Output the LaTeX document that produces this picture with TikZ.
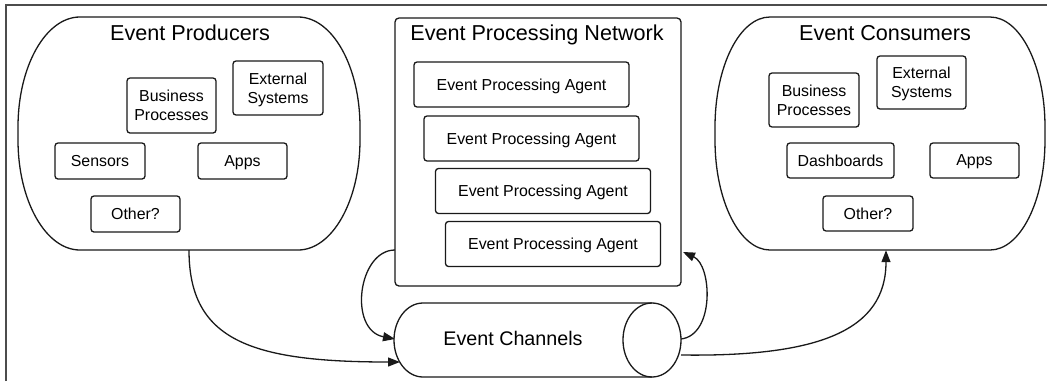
\documentclass[tikz,border=0pt]{standalone}
\usepackage{fontspec}
\setmainfont{Liberation Sans}
\usetikzlibrary{arrows.meta,calc}
\newcommand\cloudshape[5]{% L T R B rx
  \draw[ln] ({#1+#5},#2) -- ({#3-#5},#2)
    .. controls ({#3-0.4477*#5},#2) and (#3,{#2+110-60.8}) .. (#3,{#2+110})
    -- (#3,{#4-110})
    .. controls (#3,{#4-110+60.8}) and ({#3-0.4477*#5},#4) .. ({#3-#5},#4)
    -- ({#1+#5},#4)
    .. controls ({#1+0.4477*#5},#4) and (#1,{#4-110+60.8}) .. (#1,{#4-110})
    -- (#1,{#2+110})
    .. controls (#1,{#2+110-60.8}) and ({#1+0.4477*#5},#2) .. cycle;}
\begin{document}
\begin{tikzpicture}[x=1pt,y=-1pt,
  ln/.style={line width=1.3pt, draw=black!90},
  box/.style={ln, rounded corners=3pt, inner sep=0pt, align=center,
    font=\fontsize{15.9}{19}\selectfont, text depth=0pt,
    minimum width=89, minimum height=36},
  agent/.style={box, minimum width=215, minimum height=45},
  ttl/.style={anchor=base, font=\fontsize{21.6}{26}\selectfont, inner sep=0pt},
  conn/.style={ln, -{Triangle[length=12pt,width=9pt]}},
]
\useasboundingbox (0,0) rectangle (1047,381);
% frame
\draw[line width=1.3pt, black!70] (6,381) -- (6,5) -- (1047,5);

% producers
\node[minimum width=342, minimum height=233, inner sep=0pt] (prod) at (189,133.5) {};
\cloudshape{18}{17}{360}{250}{62}
\node[ttl] (prodt) at (190,40.5) {Event Producers};
\node[box, minimum height=55] (pbp) at (171.5,105.5) {Business\\Processes};
\node[box, minimum width=90, minimum height=54] (pes) at (278,88) {External\\Systems};
\node[box, minimum width=90] (psen) at (100,161) {Sensors};
\node[box] (papp) at (242.5,161) {Apps};
\node[box] (poth) at (135.5,214) {Other?};

% network
\node[ln, rounded corners=4pt, minimum width=286, minimum height=268, inner sep=0pt] (net) at (538,152) {};
\node[ttl] (nett) at (537,40) {Event Processing Network};
\node[agent] (a1) at (521.5,84.5) {Event Processing Agent};
\node[agent] (a2) at (531.5,138.5) {Event Processing Agent};
\node[agent] (a3) at (543,191) {Event Processing Agent};
\node[agent] (a4) at (553,244) {Event Processing Agent};

% consumers
\node[minimum width=330, minimum height=233, inner sep=0pt] (cons) at (880,133.5) {};
\cloudshape{715}{17}{1045}{250}{55}
\node[ttl] (const) at (885,40) {Event Consumers};
\node[box, minimum width=90, minimum height=54] (cbp) at (814,100) {Business\\Processes};
\node[box, minimum height=53] (ces) at (921.5,82.5) {External\\Systems};
\node[box, minimum width=107, minimum height=35] (cdash) at (840.5,160.5) {Dashboards};
\node[box, minimum height=35] (capp) at (974.5,160.5) {Apps};
\node[box, minimum width=90, minimum height=35] (coth) at (868,213.5) {Other?};

% channels (cylinder)
\draw[ln] (423,303) -- (652,303) (652,377) -- (423,377)
  arc[start angle=90, end angle=270, x radius=29, y radius=37];
\draw[ln] (652,340) ellipse[x radius=29, y radius=37];
\node[inner sep=0pt, font=\fontsize{19.7}{24}\selectfont, text depth=0pt] (chan) at (513,338) {Event Channels};
\coordinate (chin1) at (400,362);
\coordinate (chin2) at (395,339);
\coordinate (chout1) at (681,339);
\coordinate (chout2) at (681,355);
\coordinate (netin) at (683,252);
\coordinate (netout) at (395,250);
\coordinate (consin) at ($(cons.south)+(6,0)$);

% connectors
\draw[conn] (prod.south) .. controls (189,340) and (250,362) .. (chin1);
\draw[conn] (netout) .. controls (358,250) and (348,330) .. (chin2);
\draw[conn] (chout1) .. controls (715,335) and (712,265) .. (netin);
\draw[conn] (chout2) .. controls (820,357) and (886,330) .. (consin);
\end{tikzpicture}
\end{document}
